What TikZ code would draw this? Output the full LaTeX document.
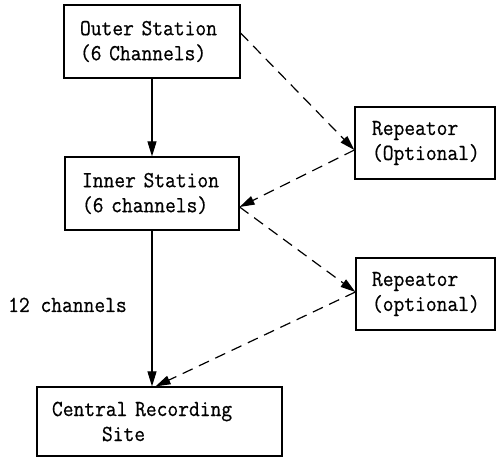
\documentclass[tikz,border=0pt]{standalone}
\usepackage{fontspec}
\setmonofont{Latin Modern Mono}[FakeBold=0.6,FakeStretch=0.91]
\usetikzlibrary{arrows.meta}

\newcommand{\labelfont}{\fontsize{23}{25}\selectfont\ttfamily}

\tikzset{
  every picture/.style={x=1pt,y=-1pt},
  box/.style={draw,line width=1.2pt,rectangle,align=left,inner ysep=0pt,
    font=\labelfont},
  solidlink/.style={line width=1.1pt,-{Triangle[length=15pt,width=9pt]}},
  dashlink/.style={line width=1.2pt,dash pattern=on 11pt off 7pt,
    -{Triangle[length=15pt,width=9pt]}},
  plain/.style={font=\labelfont,inner sep=0pt}
}

\begin{document}
\begin{tikzpicture}
  \useasboundingbox (0,0) rectangle (496,457);

  % stations, repeaters and the recording site
  \node[box,text width=144pt,inner xsep=16pt,minimum height=73pt] (outer) at (152,41.5)
    {Outer Station\\(6 Channels)};
  \node[box,text width=140pt,inner xsep=17pt,minimum height=73pt] (inner) at (152,193.5)
    {Inner Station\\(6 channels)};
  \node[box,text width=106pt,inner xsep=17pt,minimum height=72pt] (rep1) at (425,143)
    {Repeator\\(Optional)};
  \node[box,text width=107pt,inner xsep=16pt,minimum height=72pt] (rep2) at (425.5,294)
    {Repeator\\(optional)};
  \node[box,text width=215pt,inner xsep=15pt,minimum height=69pt] (central) at (159.5,421.5)
    {Central Recording\\\hspace*{50pt}Site};

  \node[plain,anchor=base west] (count) at (8,312) {12 channels};

  % direct links
  \draw[solidlink] (outer.south) -- (inner.north);
  \draw[solidlink] (inner.south) -- (inner.south |- central.north);

  % links through the optional repeaters
  \draw[dashlink] ([yshift=8.5pt]outer.east) -- ([yshift=-7pt]rep1.west);
  \draw[dashlink] ([yshift=-7pt]rep1.west) -- ([yshift=-13.5pt]inner.east);
  \draw[dashlink] ([yshift=-13.5pt]inner.east) -- ([yshift=2pt]rep2.west);
  \draw[dashlink] ([yshift=2pt]rep2.west) -- ([xshift=-4pt]central.north);
\end{tikzpicture}
\end{document}
